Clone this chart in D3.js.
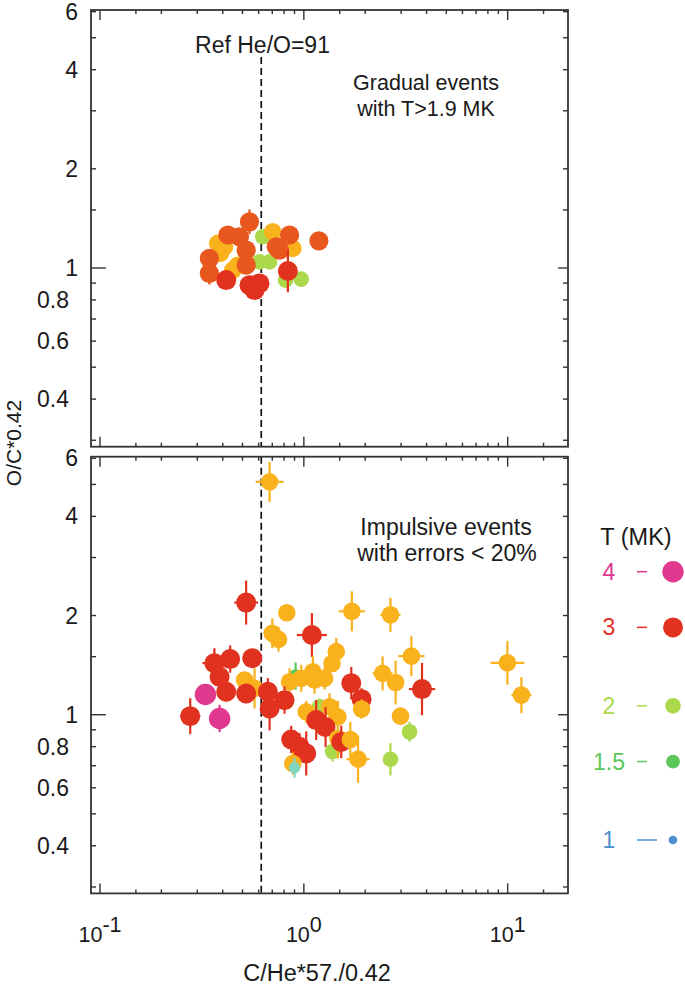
<!DOCTYPE html>
<html><head><meta charset="utf-8">
<script src="https://cdn.jsdelivr.net/npm/d3@7"></script>
<style>
body{margin:0;background:#fff}
svg{display:block}
text{font-family:"Liberation Sans",Arial,Helvetica,sans-serif;fill:#1a1a1a}
</style>
</head><body>
<svg id="chart" width="685" height="985"></svg>
<script>
// ---------------- DATA ----------------
// Gradual events (top panel)
const gradualX = [0.606,0.679,0.629,0.813,0.971,0.704,0.883,0.408,0.378,0.474,0.448,0.39,
                  0.851,0.732,0.760,0.541,0.424,0.483,0.344,0.344,0.521,0.521,1.185,
                  0.835,0.416,0.541,0.573,0.606];
const gradualY = [1.044,1.044,1.244,0.919,0.925,1.288,1.147,1.16,1.188,1.02,0.985,1.11,
                  1.259,1.16,1.133,1.381,1.259,1.244,1.069,0.963,1.02,1.133,1.209,
                  0.979,0.919,0.887,0.857,0.898];
const gradualT = [2,2,2,2,2,2.5,2.5,2.5,2.5,2.5,2.5,2.5,
                  2.85,2.85,2.85,2.85,2.85,2.85,2.85,2.85,2.85,2.85,2.85,
                  3,3,3,3,3];
const gradualEx = [0.03,0.04,0.03,0.03,0.03,0.04,0.04,0.03,0.03,0.03,0.03,0.03,
                   0.05,0.04,0.04,0.03,0.04,0.04,0.03,0.03,0.04,0.04,0.03,
                   0.05,0.04,0.04,0.04,0.04];
const gradualEy = [0.04,0.05,0.04,0.04,0.04,0.05,0.05,0.05,0.05,0.05,0.05,0.05,
                   0.05,0.05,0.05,0.09,0.05,0.05,0.05,0.08,0.05,0.05,0.03,
                   0.16,0.06,0.06,0.06,0.06];

// Impulsive events (bottom panel)
const impulsiveX = [0.679,0.521,0.825,1.72,2.66,0.700,0.751,1.095,1.442,1.375,0.911,1.194,
                    0.364,0.435,0.558,0.512,0.386,0.573,0.416,0.521,0.329,0.277,0.386,
                    0.851,0.971,1.107,1.128,1.264,0.666,0.679,0.804,1.027,1.337,1.469,
                    1.709,1.92,1.92,1.15,1.278,2.434,2.82,3.37,3.80,2.98,3.30,2.66,
                    1.845,1.383,1.469,1.526,1.69,0.867,0.953,1.027,0.883,0.9,9.97,11.68];
const impulsiveY = [5.09,2.19,2.04,2.06,2.01,1.766,1.693,1.745,1.554,1.431,1.31,1.057,
                    1.434,1.475,1.485,1.274,1.303,1.202,1.174,1.16,1.152,0.990,0.974,
                    1.259,1.289,1.35,1.274,1.289,1.174,1.045,1.107,1.02,1.057,0.985,
                    1.247,1.115,1.04,0.963,0.917,1.335,1.253,1.506,1.196,0.99,0.887,0.732,
                    0.733,0.773,0.847,0.827,0.841,0.841,0.799,0.763,0.711,0.690,1.437,1.147];
const impulsiveT = [2.5,3,2.5,2.5,2.5,2.5,2.5,3,2.5,2.5,1.5,2,
                    3,3,3,2.5,3,2.5,3,3,4,3,4,
                    2.5,2.5,2.5,2.5,2.5,3,3,3,2.5,2.5,2.5,
                    3,3,2.5,3,3,2.5,2.5,2.5,3,2.5,2,2,
                    2.5,2,2.5,3,2.5,3,3,3,2.5,1.25,2.5,2.5];
const impulsiveEx = [0.17,0.145,0,0.16,0.12,0.05,0.04,0.185,0.09,0.05,0.03,0.04,
                     0.145,0.1,0.05,0.05,0.05,0.05,0.06,0.05,0.04,0.12,0.04,
                     0.04,0.05,0.05,0.05,0.05,0.05,0.05,0.05,0.05,0.05,0.05,
                     0.05,0.06,0.05,0.05,0.05,0.12,0.1,0.16,0.16,0.05,0.05,0.05,
                     0.14,0.04,0.05,0.05,0.05,0.05,0.05,0.05,0.05,0.03,0.21,0.12];
const impulsiveEy = [0.15,0.166,0.04,0.15,0.126,0.11,0.09,0.166,0.1,0.06,0.1,0.06,
                     0.11,0.1,0.06,0.05,0.07,0.15,0.07,0.07,0.06,0.134,0.1,
                     0.1,0.1,0.12,0.1,0.08,0.1,0.166,0.1,0.08,0.1,0.12,
                     0.12,0.08,0.07,0.15,0.15,0.126,0.166,0.15,0.2,0.06,0.072,0.12,
                     0.18,0.072,0.15,0.12,0.13,0.1,0.1,0.166,0.08,0.072,0.166,0.134];

const refValue = 0.618;               // Ref He/O = 91
const yTickLabels = [0.4,0.6,0.8,1,2,4,6];
const xTickLabels = [0.1,1,10];
const legendT = [4,3,2,1.5,1];
const legendLabels = ["4","3","2","1.5","1"];

// ---------------- SCALES ----------------
const svg = d3.select("#chart");
const L = 91, R = 568;
const x = d3.scaleLog().domain([0.0903,19.77]).range([L,R]);
const yDomain = [0.2868,6.07];
const panels = [
  {top:10, bottom:446.7},
  {top:456.7, bottom:893.4}
];
panels.forEach(p=>{ p.y = d3.scaleLog().domain(yDomain).range([p.bottom,p.top]); });

const color = d3.scaleLinear().domain([1,1.25,1.5,2,2.5,3,4])
  .range(["#4b91d0","#7fd6c0","#5cc75a","#acd94b","#f9b11c","#e1321f","#e0378f"]);
const radius = d3.scaleLinear().domain([1,1.5,2,2.5,3,4]).range([4.3,6.9,7.8,8.8,10,10.7]);

function logTicks(dom){
  const out=[];
  for(let e=-3;e<=3;e++) for(const m of [1,1.5,2,3,4,5,6,7,8,9]){
    const v=+(m*Math.pow(10,e)).toPrecision(6);
    if(v>=dom[0] && v<=dom[1]) out.push(v);
  }
  return out;
}
const xTicks = logTicks(x.domain());
const yTicks = logTicks(yDomain);
const axisCol = "#333";

// ---------------- PANELS ----------------
const defs = svg.append("defs");
panels.forEach((p,i)=>{
  defs.append("clipPath").attr("id","clip"+i).append("rect")
    .attr("x",L).attr("y",p.top).attr("width",R-L).attr("height",p.bottom-p.top);
});

function drawPanel(p, idx, X, Y, T, EX, EY, dashTop){
  const g = svg.append("g");
  g.append("line").attr("x1",x(refValue)).attr("x2",x(refValue))
    .attr("y1",dashTop).attr("y2",p.bottom)
    .attr("stroke","#111").attr("stroke-width",1.7).attr("stroke-dasharray","7,4");
  const pg = g.append("g").attr("clip-path","url(#clip"+idx+")");
  X.forEach((xv,i)=>{
    const cx = x(xv), cy = p.y(Y[i]), col = color(T[i]);
    const gg = pg.append("g");
    if(EX[i]>0) gg.append("line").attr("x1",x(xv/(1+EX[i]))).attr("x2",x(xv*(1+EX[i])))
      .attr("y1",cy).attr("y2",cy).attr("stroke",col).attr("stroke-width",2.2);
    if(EY[i]>0) gg.append("line").attr("x1",cx).attr("x2",cx)
      .attr("y1",p.y(Y[i]/(1+EY[i]))).attr("y2",p.y(Y[i]*(1+EY[i])))
      .attr("stroke",col).attr("stroke-width",2.2);
    gg.append("circle").attr("cx",cx).attr("cy",cy).attr("r",radius(T[i])).attr("fill",col);
  });
  g.append("rect").attr("x",L).attr("y",p.top).attr("width",R-L).attr("height",p.bottom-p.top)
    .attr("fill","none").attr("stroke",axisCol).attr("stroke-width",1.8);
  xTicks.forEach(v=>{
    const major = xTickLabels.includes(v);
    const len = major?10:4;
    g.append("line").attr("x1",x(v)).attr("x2",x(v)).attr("y1",p.bottom).attr("y2",p.bottom-len)
      .attr("stroke",axisCol).attr("stroke-width",1.4);
    g.append("line").attr("x1",x(v)).attr("x2",x(v)).attr("y1",p.top).attr("y2",p.top+len)
      .attr("stroke",axisCol).attr("stroke-width",1.4);
  });
  yTicks.forEach(v=>{
    const major = v===1;
    const len = major?15:5;
    g.append("line").attr("x1",L).attr("x2",L+len).attr("y1",p.y(v)).attr("y2",p.y(v))
      .attr("stroke",axisCol).attr("stroke-width",1.4);
    g.append("line").attr("x1",R).attr("x2",R-(major?10:5)).attr("y1",p.y(v)).attr("y2",p.y(v))
      .attr("stroke",axisCol).attr("stroke-width",1.4);
  });
  yTickLabels.forEach(v=>{
    const s = String(v);
    g.append("text").attr("x", s.includes(".")?69:78).attr("y",p.y(v))
      .attr("text-anchor","end").attr("dominant-baseline","central")
      .style("font-size","23px").text(s);
  });
}

drawPanel(panels[0],0,gradualX,gradualY,gradualT,gradualEx,gradualEy,57);
drawPanel(panels[1],1,impulsiveX,impulsiveY,impulsiveT,impulsiveEx,impulsiveEy,panels[1].top);

// x tick labels (bottom panel only)
xTickLabels.forEach(v=>{
  const t = svg.append("text").attr("x",x(v)).attr("y",942).attr("text-anchor","middle")
    .style("font-size","21.5px");
  t.append("tspan").text("10");
  t.append("tspan").attr("dy",-10).text(String(Math.round(Math.log10(v))));
});

// axis titles
svg.append("text").attr("x",317).attr("y",981).attr("text-anchor","middle")
  .style("font-size","23.5px").text("C/He*57./0.42");
svg.append("text").attr("transform","translate(21,443) rotate(-90)").attr("text-anchor","middle")
  .style("font-size","21px").text("O/C*0.42");

// annotations
svg.append("text").attr("x",262.5).attr("y",53).attr("text-anchor","middle")
  .style("font-size","23px").text("Ref He/O=91");
svg.append("text").attr("x",426).attr("y",90).attr("text-anchor","middle")
  .style("font-size","21.5px").text("Gradual events");
svg.append("text").attr("x",426).attr("y",116).attr("text-anchor","middle")
  .style("font-size","21.5px").text("with T>1.9 MK");
svg.append("text").attr("x",446).attr("y",535).attr("text-anchor","middle")
  .style("font-size","23px").text("Impulsive events");
svg.append("text").attr("x",447).attr("y",561).attr("text-anchor","middle")
  .style("font-size","23px").text("with errors < 20%");

// legend (log scale of temperature)
const legY = d3.scaleLog().domain([1,4]).range([840,571.7]);
svg.append("text").attr("x",636).attr("y",545).attr("text-anchor","middle")
  .style("font-size","23.5px").text("T (MK)");
legendT.forEach((t,i)=>{
  const yy = legY(t), col = color(t);
  svg.append("text").attr("x",609).attr("y",yy).attr("text-anchor","middle")
    .attr("dominant-baseline","central").style("font-size","23px").style("fill",col)
    .text(legendLabels[i]);
  svg.append("line").attr("x1",637).attr("x2",t===1?657:647).attr("y1",yy).attr("y2",yy)
    .attr("stroke",col).attr("stroke-width",1.5);
  svg.append("circle").attr("cx",673).attr("cy",yy).attr("r",radius(t)).attr("fill",col);
});
</script>
</body></html>
